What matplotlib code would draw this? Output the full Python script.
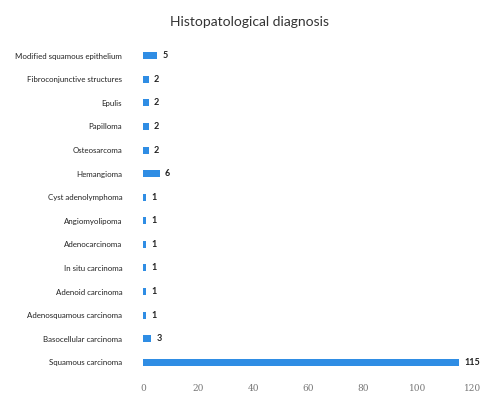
import matplotlib
matplotlib.use("Agg")
import matplotlib.pyplot as plt

categories = ["Modified squamous epithelium", "Fibroconjunctive structures", "Epulis",
              "Papilloma", "Osteosarcoma", "Hemangioma", "Cyst adenolymphoma",
              "Angiomyolipoma", "Adenocarcinoma", "In situ carcinoma", "Adenoid carcinoma",
              "Adenosquamous carcinoma", "Basocellular carcinoma", "Squamous carcinoma"]
values = [5, 2, 2, 2, 2, 6, 1, 1, 1, 1, 1, 1, 3, 115]
xticks = [0, 20, 40, 60, 80, 100, 120]
title = "Histopatological diagnosis"

plt.rcParams['font.family'] = ['Lato', 'DejaVu Sans']
fig = plt.figure(figsize=(5, 4.07), dpi=100)
ax = fig.add_axes([0.286, 0.081, 0.66, 0.811])

n = len(categories)
ypos = list(range(n - 1, -1, -1))
ax.barh(ypos, values, height=0.3, color='#2f8de4')
for y, v in zip(ypos, values):
    ax.text(v + 2.0, y, str(v), va='center', ha='left', fontsize=6.5,
            fontweight='bold', color='#222222')

ax.set_ylim(-0.5, n - 0.5)
ax.set_xlim(0, 120)
ax.set_yticks(ypos)
ax.set_yticklabels(categories, fontsize=5.7, color='#222222')
ax.set_xticks(xticks)
ax.set_xticklabels([str(t) for t in xticks], fontsize=6.5, color='#777777', family='DejaVu Serif')
ax.tick_params(axis='y', length=0, pad=15)
ax.tick_params(axis='x', length=0, pad=7)
for s in ax.spines.values():
    s.set_visible(False)

fig.text(0.5, 0.945, title, ha='center', va='center', fontsize=10, color='#333333')
fig.savefig("out.png", dpi=100)
